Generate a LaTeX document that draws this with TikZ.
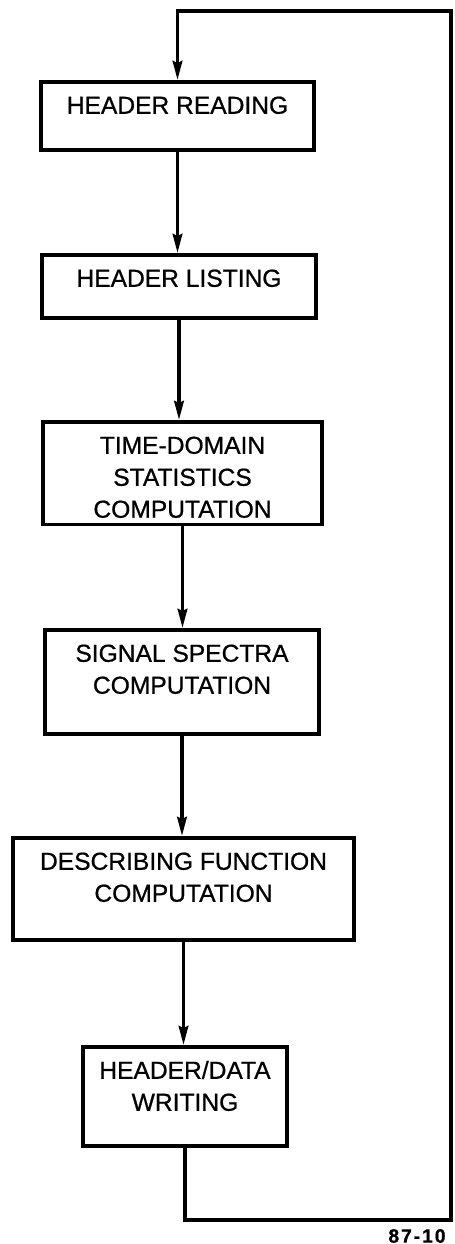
\documentclass[tikz,border=0pt]{standalone}
\usepackage{fontspec}
\usepackage{tikz}
\usetikzlibrary{arrows.meta,positioning}
\newfontfamily\lettering[FakeBold=0.8]{Liberation Sans}

\begin{document}
\begin{tikzpicture}[
    x=0.02cm, y=-0.02cm,
    stage/.style={rectangle, draw, line width=2pt, align=center, inner sep=0pt,
        anchor=north, font=\lettering\fontsize{14}{18.2}\selectfont},
    flow/.style={line width=2pt, -{Stealth[length=0.38cm, width=0.19cm, inset=0.04cm]}}
]
    \useasboundingbox (0,0) rectangle (455,1244);

    % Processing stages
    \node[stage, minimum width=5.46cm, text height=0.64cm, text depth=0.72cm] (read) at (177.5,80) {HEADER READING};
    \node[stage, minimum width=5.48cm, text height=0.64cm, text depth=0.62cm] (list) at (179,253) {HEADER LISTING};
    \node[stage, minimum width=5.58cm, text height=1.92cm, text depth=0.14cm] (stats) at (182.5,420) {TIME-DOMAIN\\STATISTICS\\COMPUTATION};
    \node[stage, minimum width=5.48cm, text height=1.28cm, text depth=0.80cm] (spectra) at (182,628) {SIGNAL SPECTRA\\COMPUTATION};
    \node[stage, minimum width=6.82cm, text height=1.28cm, text depth=0.76cm] (descr) at (183.5,836) {DESCRIBING FUNCTION\\COMPUTATION};
    \node[stage, minimum width=4.08cm, text height=1.28cm, text depth=0.70cm] (write) at (185,1045) {HEADER/DATA\\WRITING};

    % Flow between stages
    \draw[flow] (read.south) -- (read.south |- list.north);
    \draw[flow] (list.south) -- (list.south |- stats.north);
    \draw[flow] (stats.south) -- (stats.south |- spectra.north);
    \draw[flow] (spectra.south) -- (spectra.south |- descr.north);
    \draw[flow] (descr.south) -- (descr.south |- write.north);

    % Return loop
    \coordinate (loopbr) at (451,1220);
    \coordinate (looptr) at (451,11);
    \draw[flow] (write.south) |- (loopbr) -- (looptr) -| (read.north);

    \node[font=\lettering\bfseries\fontsize{11}{12}\selectfont\addfontfeature{LetterSpace=10}] (figno) at (417,1236) {87-10};
\end{tikzpicture}
\end{document}
